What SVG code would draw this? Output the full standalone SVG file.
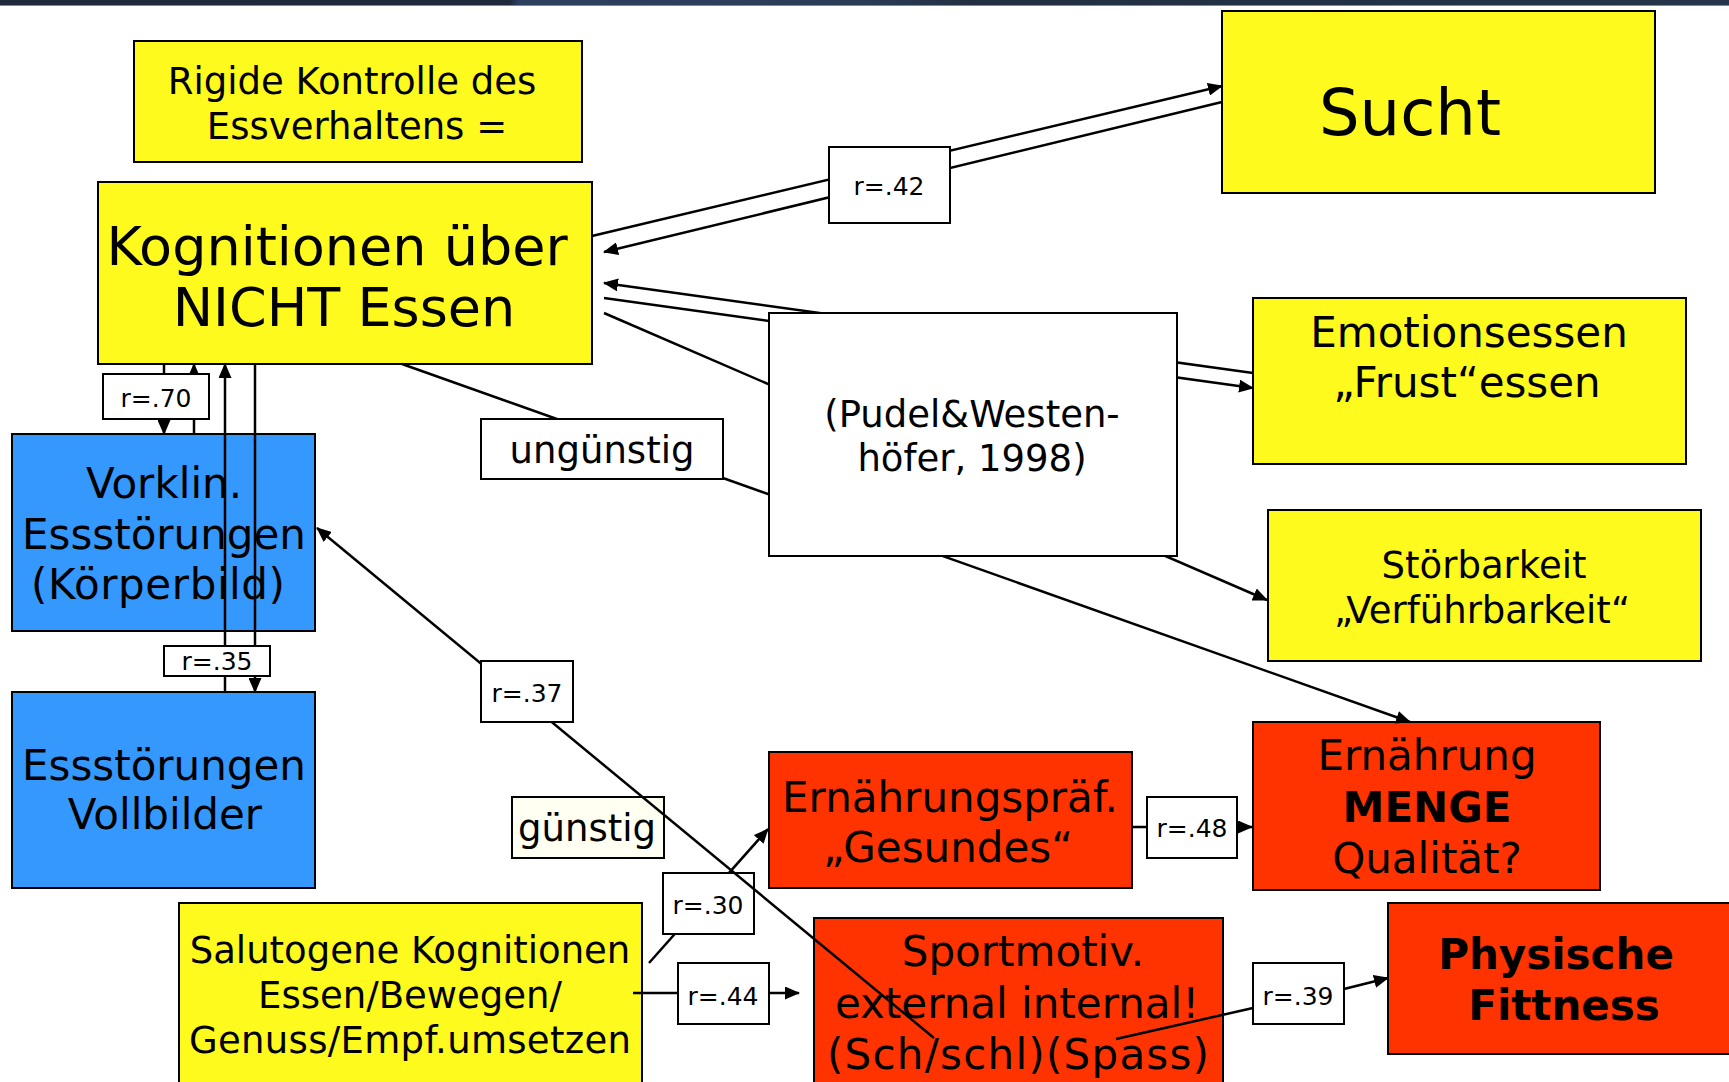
<svg xmlns="http://www.w3.org/2000/svg" width="1729" height="1082" viewBox="0 0 1729 1082">
<style>
text{font-family:"DejaVu Sans",Verdana,sans-serif;fill:#000;text-anchor:middle}
.box{stroke:#000;stroke-width:2}
.y{fill:#fffa1e}
.b{fill:#3498fd}
.r{fill:#ff3300}
.w{fill:#fff}
.s{font-size:37px}
.m{font-size:42px}
.l{font-size:54px}
.xl{font-size:64px}
.lab{font-size:25px}
.bold{font-weight:bold}
.c line{stroke:#000;stroke-width:2.5;fill:none}
.c .a{marker-end:url(#ah)}
</style>
<defs>
<marker id="ah" markerUnits="userSpaceOnUse" markerWidth="15" markerHeight="13" refX="14" refY="6.5" orient="auto">
<path d="M0,0 L15,6.5 L0,13 z" fill="#000"/>
</marker>
<linearGradient id="bar" x1="0" y1="0" x2="1" y2="0">
<stop offset="0" stop-color="#1e2a3a"/>
<stop offset="0.295" stop-color="#1f2b3c"/>
<stop offset="0.3" stop-color="#2e4060"/>
<stop offset="0.5" stop-color="#2b3c57"/>
<stop offset="0.56" stop-color="#222f42"/>
<stop offset="1" stop-color="#26354a"/>
</linearGradient>
</defs>
<rect x="0" y="0" width="1729" height="1082" fill="#fff"/>
<rect x="0" y="0" width="1729" height="5" fill="url(#bar)"/>
<rect x="0" y="5" width="1729" height="1" fill="#7d8a99"/>

<g id="rigide"><rect class="box y" x="134" y="41" width="448" height="121"/>
<text class="s" x="352" y="94">Rigide Kontrolle des</text>
<text class="s" x="357" y="139">Essverhaltens =</text></g>

<g id="kognitionen"><rect class="box y" x="98" y="182" width="494" height="182"/>
<text class="l" x="337" y="265">Kognitionen über</text>
<text class="l" x="344" y="326">NICHT Essen</text></g>

<g id="sucht"><rect class="box y" x="1222" y="11" width="433" height="182"/>
<text class="xl" x="1410" y="135">Sucht</text></g>

<g id="emotionsessen"><rect class="box y" x="1253" y="298" width="433" height="166"/>
<text class="m" x="1469" y="347">Emotionsessen</text>
<text class="m" x="1467" y="397">„Frust“essen</text></g>

<g id="stoerbarkeit"><rect class="box y" x="1268" y="510" width="433" height="151"/>
<text class="s" x="1484" y="578">Störbarkeit</text>
<text class="s" x="1482" y="623">„Verführbarkeit“</text></g>

<g id="vorklin"><rect class="box b" x="12" y="434" width="303" height="197"/>
<text class="m" x="164" y="498">Vorklin.</text>
<text class="m" x="164" y="549">Essstörungen</text>
<text class="m" x="158" y="599" textLength="254">(Körperbild)</text></g>

<g id="vollbilder"><rect class="box b" x="12" y="692" width="303" height="196"/>
<text class="m" x="164" y="780">Essstörungen</text>
<text class="m" x="165" y="829">Vollbilder</text></g>

<g id="guenstig"><rect class="box" fill="#fffff2" x="512" y="797" width="152" height="61"/>
<text class="s" x="587" y="841">günstig</text></g>

<g id="praef"><rect class="box r" x="769" y="752" width="363" height="136"/>
<text class="m" x="950" y="812">Ernährungspräf.</text>
<text class="m" x="948" y="862">„Gesundes“</text></g>

<g id="menge"><rect class="box r" x="1253" y="722" width="347" height="168"/>
<text class="m" x="1427" y="770">Ernährung</text>
<text class="m bold" x="1427" y="822">MENGE</text>
<text class="m" x="1427" y="873">Qualität?</text></g>

<g id="salutogen"><rect class="box y" x="179" y="903" width="463" height="190"/>
<text class="s" x="410" y="963">Salutogene Kognitionen</text>
<text class="s" x="410" y="1008">Essen/Bewegen/</text>
<text class="s" x="410" y="1053" textLength="442">Genuss/Empf.umsetzen</text></g>

<g id="sport"><rect class="box r" x="814" y="918" width="409" height="175"/>
<text class="m" x="1023" y="966">Sportmotiv.</text>
<text class="m" x="1017" y="1018">external internal!</text>
<text class="m" x="1018" y="1069" textLength="382">(Sch/schl)(Spass)</text></g>

<g id="fitness"><rect class="box r" x="1388" y="903" width="350" height="151"/>
<text class="m bold" x="1556" y="969">Physische</text>
<text class="m bold" x="1564" y="1020">Fittness</text></g>

<g id="connectors" class="c">
<g><line class="a" x1="592" y1="236" x2="1222" y2="86"/>
<line class="a" x1="1222" y1="102" x2="604" y2="252"/>
<rect class="box w" x="829" y="147" width="121" height="76"/>
<text class="lab" x="889" y="195">r=.42</text></g>

<line class="a" x1="1253" y1="373" x2="604" y2="283"/>
<line class="a" x1="604" y1="298" x2="1253" y2="388"/>
<line class="a" x1="604" y1="313" x2="1267" y2="600"/>

<g><line class="a" x1="402" y1="364" x2="1410" y2="722"/>
<rect class="box w" x="481" y="419" width="242" height="60"/>
<text class="s" x="602" y="463">ungünstig</text></g>

<g><line class="a" x1="164" y1="364" x2="164" y2="434"/>
<line class="a" x1="194" y1="434" x2="194" y2="364"/>
<rect class="box w" x="103" y="374" width="106" height="45"/>
<text class="lab" x="156" y="407">r=.70</text></g>

<g><line class="a" x1="225" y1="692" x2="225" y2="364"/>
<line class="a" x1="255" y1="364" x2="255" y2="692"/>
<rect class="box w" x="164" y="646" width="106" height="30"/>
<text class="lab" x="217" y="670">r=.35</text></g>

<g><line class="a" x1="649" y1="963" x2="768" y2="829"/>
<rect class="box w" x="663" y="873" width="91" height="61"/>
<text class="lab" x="708" y="914">r=.30</text></g>

<g><line class="a" x1="934" y1="1038" x2="317" y2="528"/>
<rect class="box w" x="481" y="661" width="92" height="61"/>
<text class="lab" x="527" y="702">r=.37</text></g>

<g><line class="a" x1="633" y1="993" x2="799" y2="993"/>
<rect class="box w" x="678" y="963" width="91" height="61"/>
<text class="lab" x="723" y="1005">r=.44</text></g>

<g><line class="a" x1="1132" y1="827" x2="1252" y2="827"/>
<rect class="box w" x="1147" y="797" width="90" height="61"/>
<text class="lab" x="1192" y="837">r=.48</text></g>

<g><line x1="1116" y1="1039" x2="1253" y2="1008"/>
<line class="a" x1="1344" y1="989" x2="1388" y2="978"/>
<rect class="box w" x="1253" y="963" width="91" height="61"/>
<text class="lab" x="1298" y="1005">r=.39</text></g>
</g>

<g id="pudel"><rect class="box w" x="769" y="313" width="408" height="243"/>
<text class="s" x="972" y="427">(Pudel&amp;Westen-</text>
<text class="s" x="972" y="471">höfer, 1998)</text></g>
</svg>
